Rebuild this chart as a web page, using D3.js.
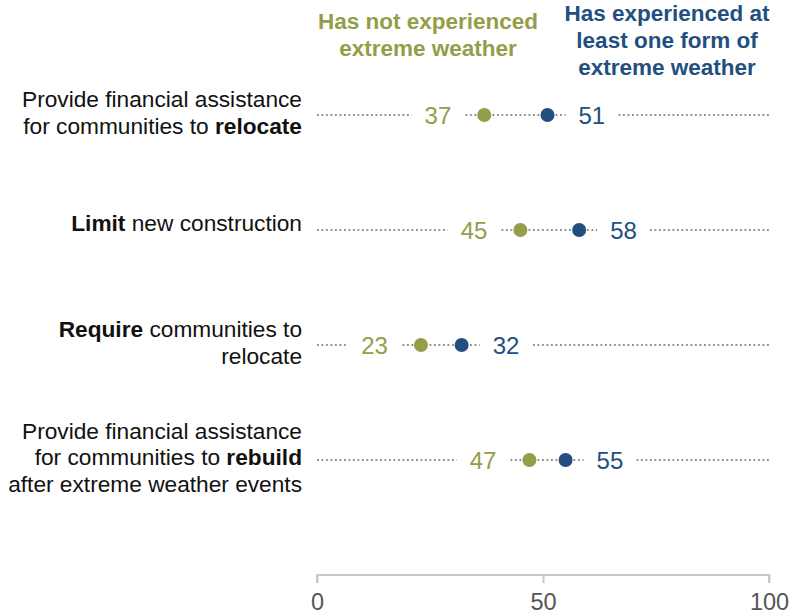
<!DOCTYPE html>
<html>
<head>
<meta charset="utf-8">
<script src="https://cdn.jsdelivr.net/npm/d3@7/dist/d3.min.js"></script>
<style>
  html, body { margin: 0; padding: 0; background: #fff; }
  svg { display: block; font-family: "Liberation Sans", Arial, sans-serif; }
</style>
</head>
<body>
<svg id="chart" width="802" height="616"></svg>
<script>
// ---- data ----
const categories = [
  ["Provide financial assistance", "for communities to **relocate**"],
  ["**Limit** new construction"],
  ["**Require** communities to", "relocate"],
  ["Provide financial assistance", "for communities to **rebuild**", "after extreme weather events"]
];
const notExperienced = [37, 45, 23, 47];
const experienced = [51, 58, 32, 55];
const seriesNames = [
  ["Has not experienced", "extreme weather"],
  ["Has experienced at", "least one form of", "extreme weather"]
];
const xTicks = [0, 50, 100];

// ---- styles ----
const GREEN = "#949d48";
const BLUE = "#234e80";

const svg = d3.select("#chart");

const x = d3.scaleLinear().domain([0, 100]).range([317, 769]);
const y = d3.scalePoint().domain(d3.range(categories.length)).range([115, 460]);

// axis
const axisY = 575;
const axis = d3.axisBottom(x).tickValues(xTicks).tickSize(8).tickPadding(10);
const gAxis = svg.append("g").attr("transform", `translate(0,${axisY})`).call(axis);
gAxis.select(".domain").attr("stroke", "#c8c8c8").attr("stroke-width", 2)
  .attr("d", `M${x(0)},8V0H${x(100)}V8`);
gAxis.selectAll(".tick line").attr("stroke", "#c8c8c8").attr("stroke-width", 2);
gAxis.selectAll(".tick text").attr("font-size", 23.5).attr("fill", "#555")
  .attr("font-family", '"Liberation Sans", Arial, sans-serif');

// rows
const rows = svg.append("g").selectAll("g.row")
  .data(categories.map((c, i) => ({ i, label: c, a: notExperienced[i], b: experienced[i] })))
  .join("g").attr("class", "row")
  .attr("transform", d => `translate(0,${y(d.i)})`);

// dotted line
rows.append("line")
  .attr("x1", x(0)).attr("x2", x(100))
  .attr("stroke", "#8c8c8c").attr("stroke-width", 2)
  .attr("stroke-dasharray", "1.8,2.7");

// value labels with white backing
function addValue(sel, accessor, color, side) {
  const g = sel.append("g");
  g.append("text")
    .attr("x", d => side < 0 ? x(accessor(d)) - 33 : x(accessor(d)) + 31)
    .attr("text-anchor", side < 0 ? "end" : "start")
    .attr("dy", "0.36em")
    .attr("font-size", 24)
    .attr("fill", color)
    .text(accessor);
  g.each(function () {
    const node = d3.select(this).select("text").node();
    const bb = node.getBBox();
    d3.select(this).insert("rect", "text")
      .attr("x", bb.x - 13).attr("y", -8)
      .attr("width", bb.width + 26).attr("height", 16)
      .attr("fill", "#fff");
  });
}
addValue(rows, d => d.a, GREEN, -1);
addValue(rows, d => d.b, BLUE, 1);

// dots
rows.append("circle").attr("cx", d => x(d.a)).attr("r", 7).attr("fill", GREEN);
rows.append("circle").attr("cx", d => x(d.b)).attr("r", 7).attr("fill", BLUE);

// category labels
const lineH = 26.5;
rows.each(function (d) {
  const n = d.label.length;
  const offset = n === 1 ? -7 : -2.5;
  const t = d3.select(this).append("text")
    .attr("text-anchor", "end")
    .attr("font-size", 22.7)
    .attr("fill", "#111");
  d.label.forEach((line, li) => {
    const cy = offset + (li - (n - 1) / 2) * lineH;
    const parts = line.split("**");
    let first = true;
    parts.forEach((p, pi) => {
      if (!p) return;
      const ts = t.append("tspan").text(p)
        .attr("font-weight", pi % 2 === 1 ? "bold" : "normal");
      if (first) {
        ts.attr("x", 302).attr("y", cy).attr("dy", "0.35em");
        first = false;
      }
    });
  });
});

// series headers
const headers = [
  { lines: seriesNames[0], color: GREEN, cx: 428, top: 21 },
  { lines: seriesNames[1], color: BLUE, cx: 667, top: 13 }
];
headers.forEach(h => {
  const t = svg.append("text")
    .attr("text-anchor", "middle")
    .attr("font-size", 22.5)
    .attr("font-weight", "bold")
    .attr("fill", h.color);
  h.lines.forEach((l, i) => {
    t.append("tspan").attr("x", h.cx).attr("y", h.top + i * 27).attr("dy", "0.35em").text(l);
  });
});
</script>
</body>
</html>
